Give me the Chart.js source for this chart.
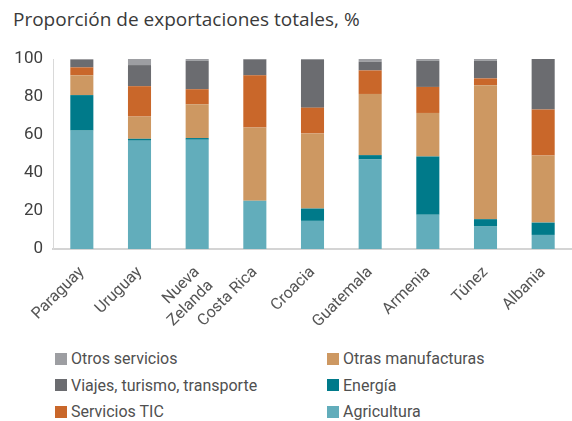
<!DOCTYPE html>
<html>
<head>
<meta charset="utf-8">
<script src="https://cdn.jsdelivr.net/npm/chart.js@4/dist/chart.umd.min.js"></script>
<style>
  body { margin: 0; background: #fff; width: 572px; height: 421px; overflow: hidden; font-family: Roboto, "Noto Sans", sans-serif; }
  #title { position: absolute; left: 13px; top: 6px; font-family: "Open Sans", "Noto Sans", sans-serif; font-size: 19px; color: #3a3a3a; }
  #wrap { position: absolute; left: 0; top: 0; width: 572px; height: 345px; }
  #legend { position: absolute; left: 55px; top: 349px; display: grid; grid-template-columns: 272px 240px; row-gap: 7.5px; }
  .item { display: flex; align-items: center; font-size: 16px; color: #505050; height: 19px; }
  .sw { width: 12px; height: 12px; margin-right: 4px; }
</style>
</head>
<body>
<div id="title">Proporción de exportaciones totales, %</div>
<div id="wrap"><canvas id="chart" width="572" height="345"></canvas></div>
<div id="legend"></div>
<script>
const paises = ['Paraguay', 'Uruguay', ['Nueva', 'Zelanda'], 'Costa Rica', 'Croacia', 'Guatemala', 'Armenia', 'Túnez', 'Albania'];
const yTicks = [0, 20, 40, 60, 80, 100];

const agricultura = [62.3, 57.0, 57.5, 25.4, 14.8, 47.1, 18.0, 11.8, 7.4];
const energia = [18.7, 1.0, 0.9, 0.0, 6.5, 2.3, 30.7, 3.9, 6.5];
const manufacturas = [10.4, 11.7, 17.8, 38.5, 39.5, 32.2, 22.9, 70.5, 35.3];
const serviciosTic = [4.2, 16.0, 7.9, 27.5, 13.6, 12.4, 13.7, 3.6, 24.2];
const viajes = [3.9, 11.1, 15.0, 8.4, 25.3, 4.6, 13.8, 9.3, 26.6];
const otrosServicios = [0.5, 3.2, 0.9, 0.2, 0.3, 1.4, 0.9, 0.9, 0.0];

const series = [
  { label: 'Agricultura', data: agricultura, color: '#62adbb' },
  { label: 'Energía', data: energia, color: '#007a8a' },
  { label: 'Otras manufacturas', data: manufacturas, color: '#cd9862' },
  { label: 'Servicios TIC', data: serviciosTic, color: '#c9672a' },
  { label: 'Viajes, turismo, transporte', data: viajes, color: '#6b6c70' },
  { label: 'Otros servicios', data: otrosServicios, color: '#9d9ea2' }
];

// leyenda en dos columnas (orden inverso del apilado)
const legendOrder = ['Otros servicios', 'Otras manufacturas', 'Viajes, turismo, transporte', 'Energía', 'Servicios TIC', 'Agricultura'];
const legend = document.getElementById('legend');
legendOrder.forEach(name => {
  const s = series.find(d => d.label === name);
  const el = document.createElement('div');
  el.className = 'item';
  el.innerHTML = `<span class="sw" style="background:${s.color}"></span>${s.label}`;
  legend.appendChild(el);
});

const ctx = document.getElementById('chart').getContext('2d');
new Chart(ctx, {
  type: 'bar',
  data: {
    labels: paises,
    datasets: series.map(s => ({
      label: s.label,
      data: s.data,
      backgroundColor: s.color,
      borderWidth: 0,
      barPercentage: 0.4,
      categoryPercentage: 1
    }))
  },
  options: {
    responsive: false,
    animation: false,
    layout: { padding: { top: 59, right: 0, left: 0, bottom: 0 } },
    plugins: { legend: { display: false }, tooltip: { enabled: false } },
    scales: {
      x: {
        stacked: true,
        grid: { display: false, drawTicks: false },
        border: { color: '#d4d4d4', width: 2 },
        ticks: {
          autoSkip: false,
          maxRotation: 45, minRotation: 45, padding: 14,
          color: '#555', font: { family: 'Roboto', size: 16 }
        },
        afterFit: scale => { scale.height = 96; }
      },
      y: {
        stacked: true,
        min: 0, max: 100,
        afterBuildTicks: scale => { scale.ticks = yTicks.map(v => ({ value: v })); },
        grid: { display: false, drawTicks: false },
        border: { color: '#d9d9d9', width: 1 },
        ticks: { padding: 10, color: '#404040', font: { family: 'Roboto', size: 17 } },
        afterFit: scale => { scale.width = 53; }
      }
    }
  }
});
</script>
</body>
</html>
